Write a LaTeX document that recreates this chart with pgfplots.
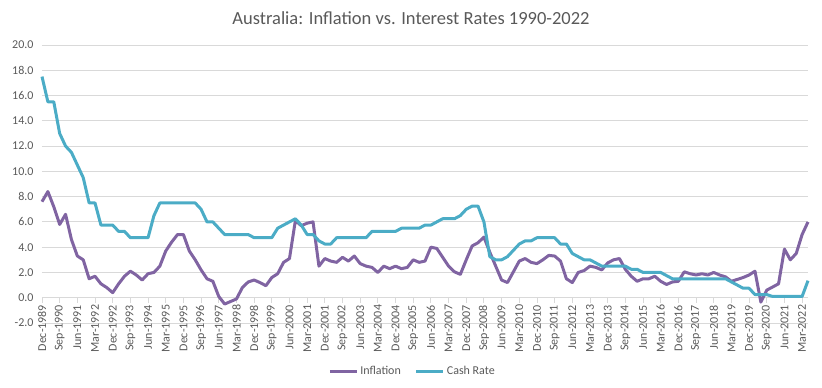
\documentclass[border=0pt]{standalone}
\usepackage{pgfplots}
\pgfplotsset{compat=1.18}
\usepackage{pgfplotstable}
\usepackage{fontspec}
\setmainfont{Carlito}
\definecolor{infl}{HTML}{8064A2}
\definecolor{cash}{HTML}{4BACC6}
\definecolor{txt}{HTML}{595959}
\definecolor{gridc}{HTML}{D9D9D9}

\pgfplotstableread{
i infl cash
0 7.6 17.5
1 8.4 15.5
2 7.2 15.5
3 5.8 13.0
4 6.6 12.0
5 4.6 11.5
6 3.3 10.5
7 3.0 9.5
8 1.5 7.5
9 1.7 7.5
10 1.1 5.75
11 0.8 5.75
12 0.4 5.75
13 1.1 5.25
14 1.7 5.25
15 2.1 4.75
16 1.8 4.75
17 1.4 4.75
18 1.9 4.75
19 2.0 6.5
20 2.5 7.5
21 3.7 7.5
22 4.4 7.5
23 5.0 7.5
24 5.0 7.5
25 3.7 7.5
26 3.0 7.5
27 2.2 7.0
28 1.5 6.0
29 1.3 6.0
30 0.1 5.5
31 -0.5 5.0
32 -0.3 5.0
33 -0.1 5.0
34 0.8 5.0
35 1.25 5.0
36 1.4 4.75
37 1.2 4.75
38 0.95 4.75
39 1.6 4.75
40 1.9 5.5
41 2.8 5.75
42 3.1 6.0
43 6.1 6.25
44 5.7 5.75
45 5.9 5.0
46 6.0 5.0
47 2.5 4.5
48 3.1 4.25
49 2.9 4.25
50 2.8 4.75
51 3.2 4.75
52 2.9 4.75
53 3.3 4.75
54 2.7 4.75
55 2.5 4.75
56 2.4 5.25
57 2.0 5.25
58 2.5 5.25
59 2.3 5.25
60 2.5 5.25
61 2.3 5.5
62 2.4 5.5
63 3.0 5.5
64 2.8 5.5
65 2.9 5.75
66 4.0 5.75
67 3.9 6.0
68 3.2 6.25
69 2.5 6.25
70 2.05 6.25
71 1.85 6.5
72 3.0 7.0
73 4.1 7.25
74 4.35 7.25
75 4.8 6.0
76 3.6 3.25
77 2.5 3.0
78 1.4 3.0
79 1.2 3.25
80 2.05 3.75
81 2.9 4.25
82 3.1 4.5
83 2.8 4.5
84 2.7 4.75
85 3.0 4.75
86 3.35 4.75
87 3.3 4.75
88 2.9 4.25
89 1.5 4.25
90 1.2 3.5
91 2.0 3.25
92 2.15 3.0
93 2.5 3.0
94 2.4 2.75
95 2.2 2.5
96 2.75 2.5
97 3.0 2.5
98 3.1 2.5
99 2.25 2.5
100 1.7 2.25
101 1.3 2.25
102 1.5 2.0
103 1.5 2.0
104 1.7 2.0
105 1.3 2.0
106 1.05 1.75
107 1.25 1.5
108 1.3 1.5
109 2.05 1.5
110 1.9 1.5
111 1.8 1.5
112 1.9 1.5
113 1.8 1.5
114 2.0 1.5
115 1.8 1.5
116 1.65 1.5
117 1.3 1.25
118 1.45 1.0
119 1.6 0.75
120 1.8 0.75
121 2.1 0.25
122 -0.35 0.25
123 0.6 0.25
124 0.85 0.1
125 1.1 0.1
126 3.85 0.1
127 3.0 0.1
128 3.5 0.1
129 5.0 0.1
130 6.0 1.35
}\datatable

\begin{document}
\begin{tikzpicture}[x=1pt,y=1pt]
\useasboundingbox (0,0) rectangle (822,388);
\node[font=\fontsize{18.5}{22}\selectfont, text=txt] at (411,370) {Australia: Inflation vs. Interest Rates 1990-2022};
\begin{axis}[
  at={(42pt,65pt)}, anchor=south west,
  scale only axis, width=766pt, height=278pt,
  xmin=0, xmax=130, ymin=-2, ymax=20,
  clip=false,
  axis x line*=middle, axis y line*=left,
  hide obscured x ticks=false, hide obscured y ticks=false,
  x axis line style={draw=gridc, line width=0.9pt},
  y axis line style={draw=none},
  ytick={-2,0,...,20},
  ymajorgrids, major grid style={draw=gridc, line width=0.9pt},
  ytick style={draw=none},
  xtick={0,3,...,129},
  xtick style={draw=gridc, line width=0.9pt},
  tick align=outside, major tick length=5pt,
  xticklabels={Dec-1989,Sep-1990,Jun-1991,Mar-1992,Dec-1992,Sep-1993,Jun-1994,Mar-1995,Dec-1995,Sep-1996,Jun-1997,Mar-1998,Dec-1998,Sep-1999,Jun-2000,Mar-2001,Dec-2001,Sep-2002,Jun-2003,Mar-2004,Dec-2004,Sep-2005,Jun-2006,Mar-2007,Dec-2007,Sep-2008,Jun-2009,Mar-2010,Dec-2010,Sep-2011,Jun-2012,Mar-2013,Dec-2013,Sep-2014,Jun-2015,Mar-2016,Dec-2016,Sep-2017,Jun-2018,Mar-2019,Dec-2019,Sep-2020,Jun-2021,Mar-2022},
  xticklabel style={rotate=90, anchor=east, font=\fontsize{12}{14}\selectfont, text=txt, inner sep=2pt},
  yticklabel style={font=\fontsize{12}{14}\selectfont, text=txt},
  /pgf/number format/fixed, /pgf/number format/fixed zerofill,
  /pgf/number format/precision=1, /pgf/number format/assume math mode=true,
  legend columns=2,
  legend style={draw=none, fill=none, at={(0.4837,-0.1727)}, anchor=center,
    font=\fontsize{12}{14}\selectfont, text=txt, inner sep=0pt,
    /tikz/every even column/.append style={column sep=12pt}},
  legend image code/.code={\draw[#1] (0pt,0pt) -- (27pt,0pt);},
]
\addplot[infl, line width=3pt, line join=round, mark=none] table[x=i, y=infl]{\datatable};
\addlegendentry{Inflation}
\addplot[cash, line width=3pt, line join=round, mark=none] table[x=i, y=cash]{\datatable};
\addlegendentry{Cash Rate}
\end{axis}
\end{tikzpicture}
\end{document}
